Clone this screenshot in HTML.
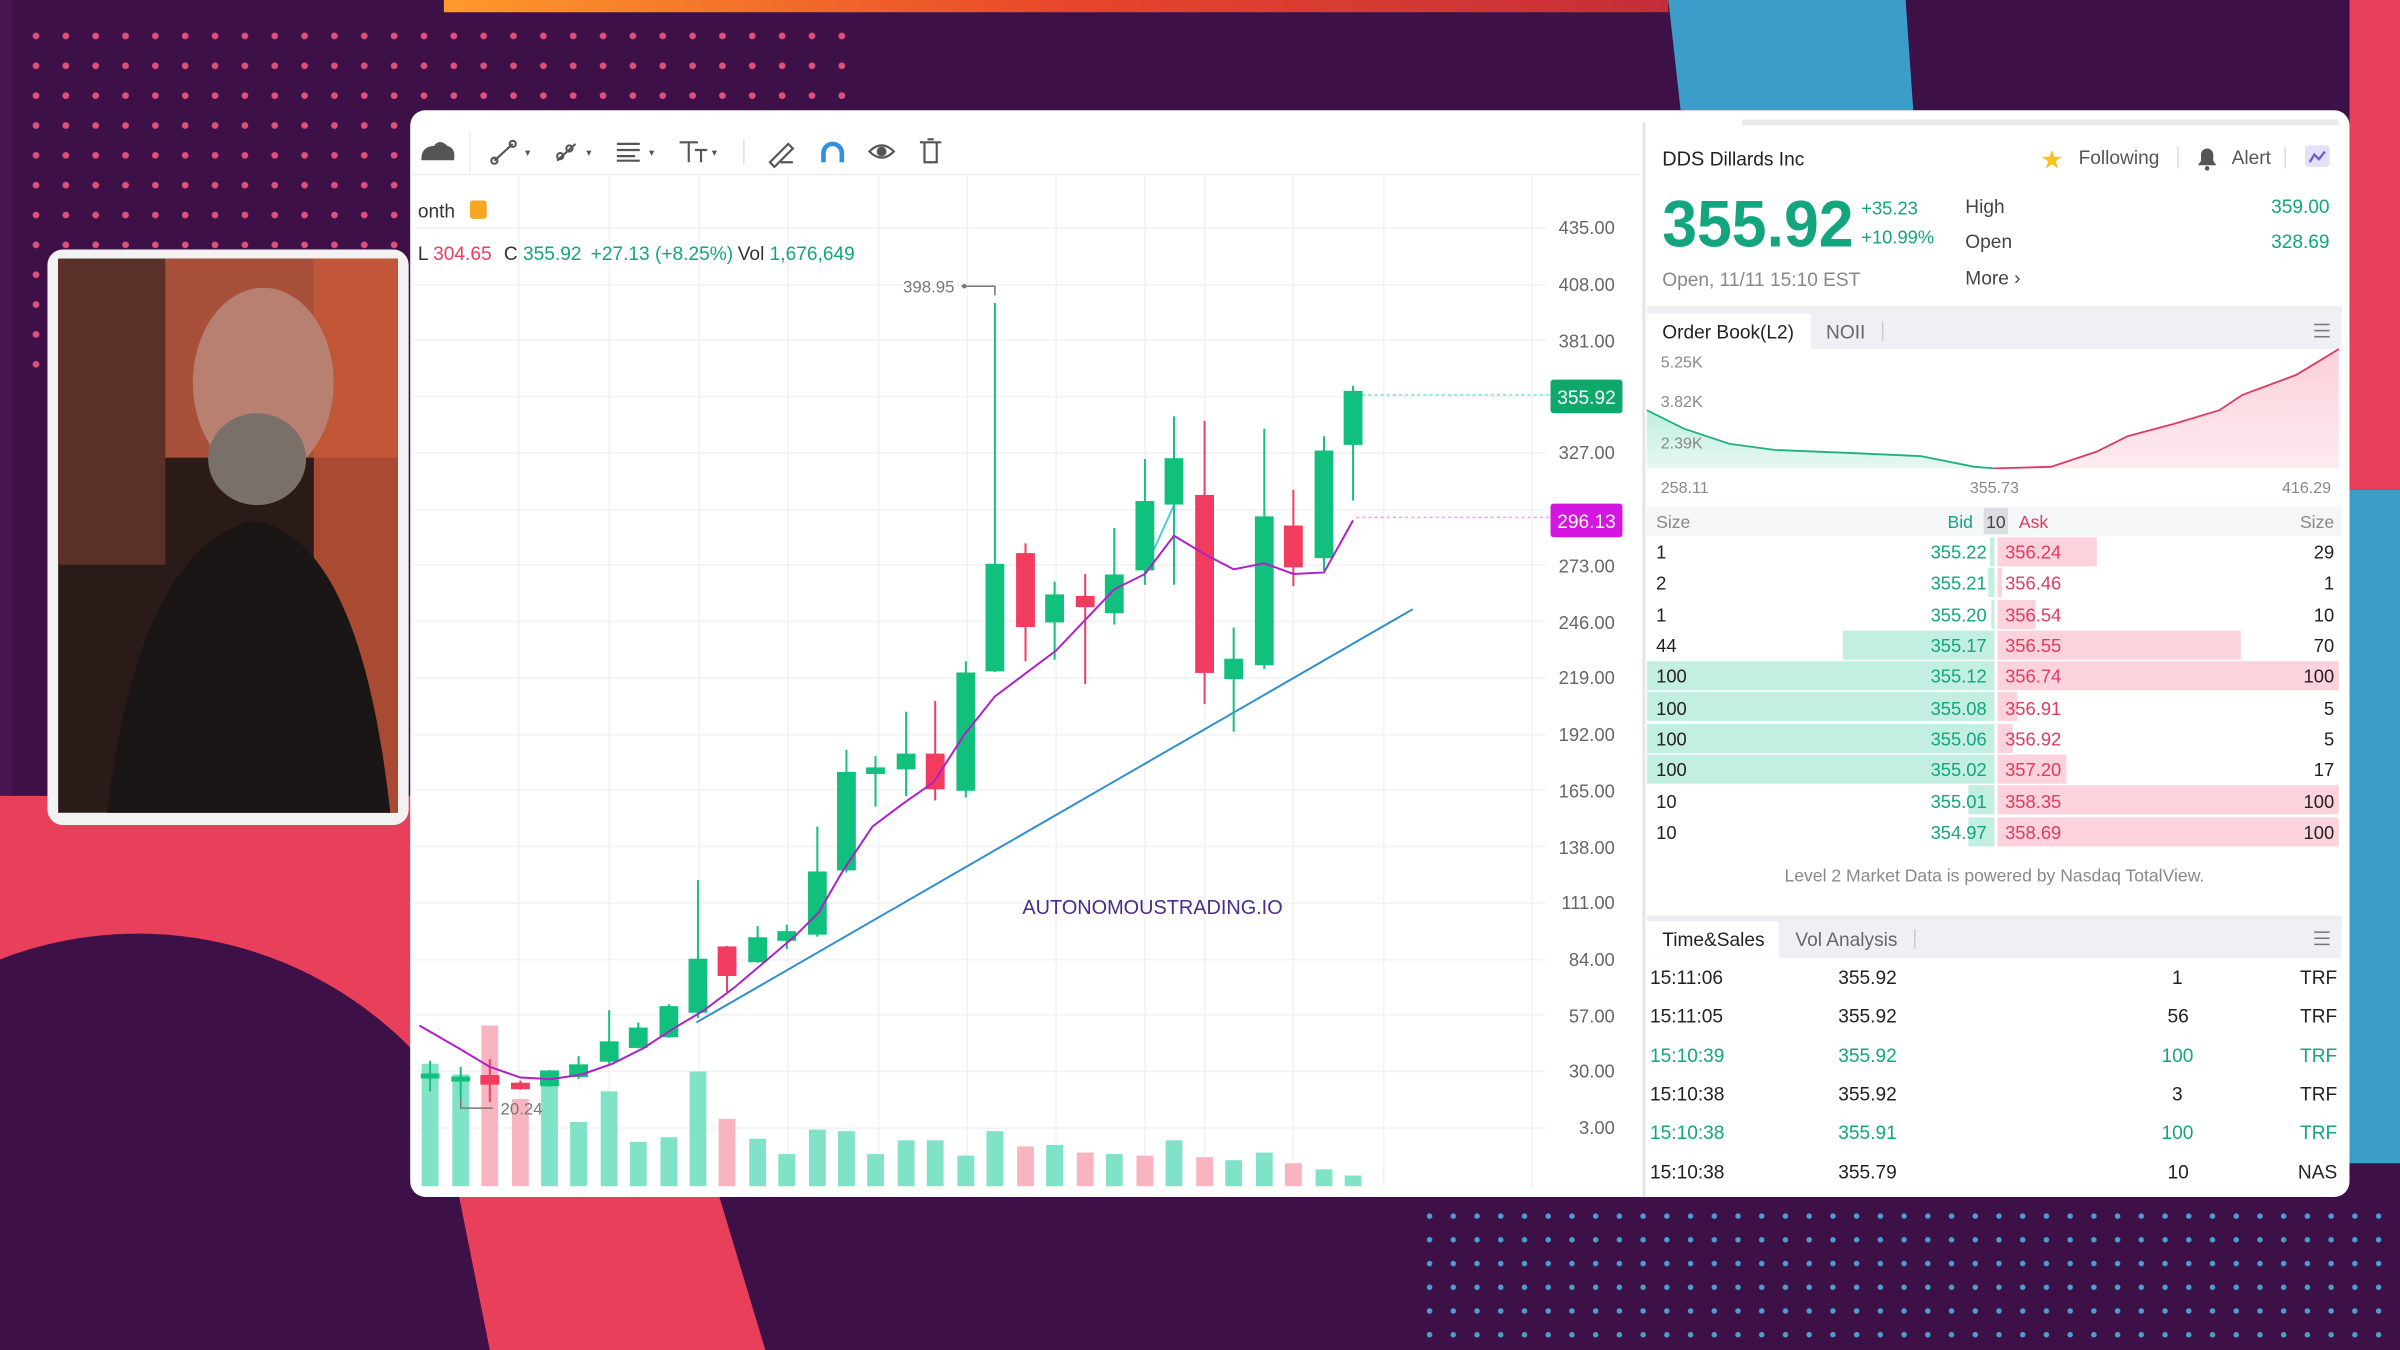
<!DOCTYPE html>
<html><head><meta charset="utf-8"><style>
html,body{margin:0;padding:0;background:#3d1048;overflow:hidden;width:2400px;height:1350px}
svg{display:block;position:absolute;left:0;top:0}
text{font-family:"Liberation Sans",sans-serif}
</style></head><body>
<svg width="2400" height="1350" viewBox="0 0 1568 882" xmlns="http://www.w3.org/2000/svg">
<defs>
<pattern id="dp" width="19.5" height="19.5" patternUnits="userSpaceOnUse"><circle cx="4" cy="4" r="2.2" fill="#e0507a"/></pattern>
<pattern id="db" width="15.5" height="15.5" patternUnits="userSpaceOnUse"><circle cx="4" cy="4" r="1.8" fill="#4a9fd0"/></pattern>
<linearGradient id="tg" x1="0" x2="1"><stop offset="0" stop-color="#ff9a2a"/><stop offset="0.5" stop-color="#e8472a"/><stop offset="1" stop-color="#c42d3a"/></linearGradient>
<linearGradient id="ga" x1="0" y1="0" x2="0" y2="1"><stop offset="0" stop-color="#bfeee0"/><stop offset="1" stop-color="#e6f8f2"/></linearGradient>
<linearGradient id="ra" x1="0" y1="0" x2="0" y2="1"><stop offset="0" stop-color="#fbd0da"/><stop offset="1" stop-color="#fdebef"/></linearGradient>
</defs>
<rect width="1568" height="882" fill="#3d1048"/>
<rect x="290" y="0" width="800" height="8" fill="url(#tg)"/>
<rect x="0" y="0" width="8" height="882" fill="#4b1450"/>
<rect x="14" y="14" width="545" height="230" fill="url(#dp)"/>
<path d="M0 520 L270 520 L270 882 L0 882 Z" fill="#e8405a"/>
<circle cx="90" cy="860" r="250" fill="#3d1048"/>
<path d="M300 782 L470 782 L500 882 L320 882 Z" fill="#e8405a"/>
<path d="M1090 0 L1245 0 L1250 72 L1098 72 Z" fill="#3b9ec9"/>
<rect x="1535" y="0" width="33" height="320" fill="#e8405a"/>
<rect x="1535" y="320" width="33" height="440" fill="#3b9ec9"/>
<rect x="930" y="788" width="630" height="94" fill="url(#db)"/>
<!-- webcam -->
<rect x="31" y="163" width="236" height="376" rx="10" fill="#f2f2f2"/>
<rect x="38" y="169" width="222" height="362" fill="#2a1a18"/>
<rect x="38" y="169" width="222" height="130" fill="#a8503a"/>
<rect x="205" y="169" width="55" height="362" fill="#c8583a" opacity="0.8"/>
<rect x="38" y="169" width="70" height="200" fill="#5a3028"/>
<ellipse cx="172" cy="250" rx="46" ry="62" fill="#b88070"/>
<ellipse cx="168" cy="300" rx="32" ry="30" fill="#7a706a"/>
<path d="M70 531 Q90 360 165 340 Q235 350 255 531 Z" fill="#1a1616"/>
<!-- main panel -->
<rect x="268" y="72" width="1267" height="710" rx="10" fill="#ffffff"/>
<rect x="1138" y="78" width="390" height="4" fill="#e8eaee"/>
<line x1="1074" y1="80" x2="1074" y2="782" stroke="#e3e5ea" stroke-width="2"/>
<line x1="270" y1="114" x2="1072" y2="114" stroke="#eceef2"/>
<line x1="307" y1="86" x2="307" y2="113" stroke="#eceef2"/>
<g fill="none" stroke="#555" stroke-width="1.4">
<path d="M276 104 q0-8 8-8 q3-5 8 0 q5 1 4 8 z" fill="#555"/>
<path d="M323 105 l12-11"/><circle cx="323" cy="105" r="2"/><circle cx="335" cy="94" r="2"/>
<path d="M364 105 l12-11"/><circle cx="366" cy="102" r="2"/><circle cx="372" cy="97" r="2"/>
<path d="M403 94 h15 M403 98 h15 M403 102 h12 M403 105 h15"/>
<path d="M444 93 h12 M450 93 v13 M454 98 h8 M458 98 v8"/>
<path d="M503 106 l12-12 l3 3 l-12 12z M510 106 h8"/>
<path d="M538 106 v-6 a6 6 0 0 1 12 0 v6" stroke="#2f8fe0" stroke-width="3"/>
<path d="M568 99 q8-8 16 0 q-8 8-16 0z"/><circle cx="576" cy="99" r="2.5" fill="#555"/>
<path d="M601 93 h14 M604 93 v13 h8 v-13 M606 91 h4"/>
</g>
<g fill="#555" font-size="7"><text x="343" y="102">▾</text><text x="383" y="102">▾</text><text x="424" y="102">▾</text><text x="465" y="102">▾</text></g>
<line x1="486" y1="91" x2="486" y2="107" stroke="#ddd"/>
<g stroke="#f1f2f5">
<line x1="339" y1="115" x2="339" y2="775"/><line x1="398" y1="115" x2="398" y2="775"/><line x1="457" y1="115" x2="457" y2="775"/><line x1="515" y1="115" x2="515" y2="775"/><line x1="574" y1="115" x2="574" y2="775"/><line x1="632" y1="115" x2="632" y2="775"/><line x1="690" y1="115" x2="690" y2="775"/><line x1="748" y1="115" x2="748" y2="775"/><line x1="787" y1="115" x2="787" y2="775"/><line x1="845" y1="115" x2="845" y2="775"/><line x1="904" y1="115" x2="904" y2="775"/><line x1="1001" y1="115" x2="1001" y2="775"/>
<line x1="270" y1="149" x2="1010" y2="149"/><line x1="270" y1="186" x2="1010" y2="186"/><line x1="270" y1="222" x2="1010" y2="222"/><line x1="270" y1="259" x2="1010" y2="259"/><line x1="270" y1="296" x2="1010" y2="296"/><line x1="270" y1="333" x2="1010" y2="333"/><line x1="270" y1="369" x2="1010" y2="369"/><line x1="270" y1="406" x2="1010" y2="406"/><line x1="270" y1="443" x2="1010" y2="443"/><line x1="270" y1="480" x2="1010" y2="480"/><line x1="270" y1="516" x2="1010" y2="516"/><line x1="270" y1="553" x2="1010" y2="553"/><line x1="270" y1="590" x2="1010" y2="590"/><line x1="270" y1="627" x2="1010" y2="627"/><line x1="270" y1="663" x2="1010" y2="663"/><line x1="270" y1="700" x2="1010" y2="700"/><line x1="270" y1="737" x2="1010" y2="737"/>
</g>
<g font-size="12" fill="#666" text-anchor="end">
<text x="1055" y="153">435.00</text><text x="1055" y="190">408.00</text><text x="1055" y="227">381.00</text><text x="1055" y="300">327.00</text><text x="1055" y="374">273.00</text><text x="1055" y="411">246.00</text><text x="1055" y="447">219.00</text><text x="1055" y="484">192.00</text><text x="1055" y="521">165.00</text><text x="1055" y="558">138.00</text><text x="1055" y="594">111.00</text><text x="1055" y="631">84.00</text><text x="1055" y="668">57.00</text><text x="1055" y="704">30.00</text><text x="1055" y="741">3.00</text>
</g>
<line x1="890" y1="258" x2="1013" y2="258" stroke="#7fe0d0" stroke-dasharray="2 2"/>
<rect x="1013" y="248" width="47" height="22" rx="2" fill="#0ea86c"/>
<text x="1036.5" y="264" font-size="12.5" fill="#fff" text-anchor="middle">355.92</text>
<line x1="886" y1="338" x2="1013" y2="338" stroke="#f0a0f0" stroke-dasharray="2 2"/>
<rect x="1013" y="329" width="47" height="22" rx="2" fill="#d516e0"/>
<text x="1036.5" y="345" font-size="12.5" fill="#fff" text-anchor="middle">296.13</text>
<text x="273" y="142" font-size="12.5" fill="#333">onth</text>
<rect x="307" y="131" width="11" height="12" rx="2" fill="#f5a623"/>
<text font-size="12.5" y="170"><tspan x="273" fill="#333">L </tspan><tspan fill="#f23c5f">304.65</tspan><tspan fill="#333" dx="8">C </tspan><tspan fill="#12a57e">355.92</tspan><tspan fill="#12a57e" dx="6">+27.13 (+8.25%)</tspan><tspan fill="#333" dx="3">Vol </tspan><tspan fill="#12a57e">1,676,649</tspan></text>
<text x="590" y="191" font-size="11" fill="#777">398.95</text>
<path d="M628 187 H650 V193" fill="none" stroke="#777"/><circle cx="630" cy="187" r="1.5" fill="#777"/>
<g fill="#80e3c8">
<rect x="275.5" y="695" width="11" height="80"/><rect x="295.5" y="702" width="11" height="73"/><rect x="353.5" y="705" width="11" height="70"/><rect x="372.5" y="733" width="11" height="42"/><rect x="392.5" y="713" width="11" height="62"/><rect x="411.5" y="746" width="11" height="29"/><rect x="431.5" y="743" width="11" height="32"/><rect x="450.5" y="700" width="11" height="75"/><rect x="489.5" y="744" width="11" height="31"/><rect x="508.5" y="754" width="11" height="21"/><rect x="528.5" y="738" width="11" height="37"/><rect x="547.5" y="739" width="11" height="36"/><rect x="566.5" y="754" width="11" height="21"/><rect x="586.5" y="745" width="11" height="30"/><rect x="605.5" y="745" width="11" height="30"/><rect x="625.5" y="755" width="11" height="20"/><rect x="644.5" y="739" width="11" height="36"/><rect x="683.5" y="748" width="11" height="27"/><rect x="722.5" y="754" width="11" height="21"/><rect x="761.5" y="745" width="11" height="30"/><rect x="800.5" y="758" width="11" height="17"/><rect x="820.5" y="753" width="11" height="22"/><rect x="859.5" y="764" width="11" height="11"/><rect x="878.5" y="768" width="11" height="7"/>
</g>
<g fill="#f9b4c2">
<rect x="314.5" y="670" width="11" height="105"/><rect x="334.5" y="718" width="11" height="57"/><rect x="469.5" y="731" width="11" height="44"/><rect x="664.5" y="749" width="11" height="26"/><rect x="703.5" y="753" width="11" height="22"/><rect x="742.5" y="755" width="11" height="20"/><rect x="781.5" y="756" width="11" height="19"/><rect x="839.5" y="760" width="11" height="15"/>
</g>
<text x="327" y="728" font-size="11" fill="#777">20.24</text>
<path d="M301 712 V724 H322" fill="none" stroke="#777"/>
<line x1="455" y1="668" x2="923" y2="398" stroke="#2f8fd0" stroke-width="1.3"/>
<line x1="748" y1="372" x2="767" y2="330" stroke="#40c8e0" stroke-width="1.2"/>
<g stroke="#12c07e" stroke-width="1.3" fill="#12c07e">
<line x1="281" y1="693" x2="281" y2="713"/><rect x="275.5" y="702" width="11" height="2"/>
<line x1="301" y1="697" x2="301" y2="718"/><rect x="295.5" y="704" width="11" height="2"/>
<line x1="359" y1="699" x2="359" y2="710"/><rect x="353.5" y="700" width="11" height="9"/>
<line x1="378" y1="690" x2="378" y2="705"/><rect x="372.5" y="696" width="11" height="7"/>
<line x1="398" y1="660" x2="398" y2="695"/><rect x="392.5" y="681" width="11" height="12"/>
<line x1="417" y1="668" x2="417" y2="685"/><rect x="411.5" y="672" width="11" height="12"/>
<line x1="437" y1="656" x2="437" y2="678"/><rect x="431.5" y="658" width="11" height="19"/>
<line x1="456" y1="575" x2="456" y2="665"/><rect x="450.5" y="627" width="11" height="34"/>
<line x1="495" y1="605" x2="495" y2="629"/><rect x="489.5" y="613" width="11" height="15"/>
<line x1="514" y1="604" x2="514" y2="620"/><rect x="508.5" y="609" width="11" height="5"/>
<line x1="534" y1="540" x2="534" y2="612"/><rect x="528.5" y="570" width="11" height="40"/>
<line x1="553" y1="490" x2="553" y2="570"/><rect x="547.5" y="505" width="11" height="63"/>
<line x1="572" y1="494" x2="572" y2="527"/><rect x="566.5" y="502" width="11" height="3"/>
<line x1="592" y1="465" x2="592" y2="520"/><rect x="586.5" y="493" width="11" height="9"/>
<line x1="631" y1="432" x2="631" y2="521"/><rect x="625.5" y="440" width="11" height="76"/>
<line x1="650" y1="198" x2="650" y2="439"/><rect x="644.5" y="369" width="11" height="69"/>
<line x1="689" y1="380" x2="689" y2="431"/><rect x="683.5" y="389" width="11" height="17"/>
<line x1="728" y1="345" x2="728" y2="408"/><rect x="722.5" y="376" width="11" height="24"/>
<line x1="748" y1="300" x2="748" y2="382"/><rect x="742.5" y="328" width="11" height="44"/>
<line x1="767" y1="272" x2="767" y2="382"/><rect x="761.5" y="300" width="11" height="29"/>
<line x1="806" y1="410" x2="806" y2="478"/><rect x="800.5" y="431" width="11" height="12"/>
<line x1="826" y1="280" x2="826" y2="437"/><rect x="820.5" y="338" width="11" height="96"/>
<line x1="865" y1="285" x2="865" y2="373"/><rect x="859.5" y="295" width="11" height="69"/>
<line x1="884" y1="252" x2="884" y2="327"/><rect x="878.5" y="256" width="11" height="34"/>
</g>
<g stroke="#f23c5f" stroke-width="1.3" fill="#f23c5f">
<line x1="320" y1="692" x2="320" y2="720"/><rect x="314.5" y="703" width="11" height="5"/>
<line x1="340" y1="706" x2="340" y2="712"/><rect x="334.5" y="708" width="11" height="3"/>
<line x1="475" y1="618" x2="475" y2="648"/><rect x="469.5" y="619" width="11" height="18"/>
<line x1="611" y1="458" x2="611" y2="523"/><rect x="605.5" y="493" width="11" height="22"/>
<line x1="670" y1="355" x2="670" y2="432"/><rect x="664.5" y="362" width="11" height="47"/>
<line x1="709" y1="375" x2="709" y2="447"/><rect x="703.5" y="390" width="11" height="6"/>
<line x1="787" y1="275" x2="787" y2="460"/><rect x="781.5" y="324" width="11" height="115"/>
<line x1="845" y1="320" x2="845" y2="383"/><rect x="839.5" y="344" width="11" height="26"/>
</g>
<polyline fill="none" stroke="#b020c8" stroke-width="1.3" points="274,670 300,685 320,697 340,704 360,705 380,702 400,695 420,685 440,672 460,660 480,645 500,628 520,611 535,596 550,570 570,540 590,525 610,511 630,480 650,455 670,440 690,425 709,405 728,385 748,375 767,350 787,362 806,372 826,368 845,375 865,374 884,340"/>
<text x="753" y="597" font-size="13" fill="#4a2c8a" text-anchor="middle">AUTONOMOUSTRADING.IO</text>
<!-- right panel -->
<text x="1086" y="108" font-size="13" fill="#222">DDS <tspan font-size="12.5">Dillards Inc</tspan></text>
<text x="1333" y="110" font-size="17" fill="#f7c21a">★</text>
<text x="1358" y="107" font-size="12.5" fill="#555">Following</text>
<line x1="1423" y1="96" x2="1423" y2="110" stroke="#ddd"/>
<path d="M1436 108 h12 l-2-3 v-4 a4 4 0 0 0-8 0 v4 z" fill="#555"/><circle cx="1442" cy="110" r="1.5" fill="#555"/>
<text x="1458" y="107" font-size="12.5" fill="#555">Alert</text>
<line x1="1493" y1="96" x2="1493" y2="110" stroke="#ddd"/>
<rect x="1506" y="95" width="16" height="14" rx="2" fill="#e4e0f8"/><path d="M1509 106 l3-5 l3 3 l4-5" stroke="#6a5cd8" fill="none" stroke-width="1.5"/>
<text x="1086" y="161" font-size="43" fill="#12a57e" font-weight="bold" textLength="125" lengthAdjust="spacingAndGlyphs">355.92</text>
<text x="1216" y="140" font-size="12" fill="#12a57e">+35.23</text>
<text x="1216" y="159" font-size="12" fill="#12a57e">+10.99%</text>
<text x="1284" y="139" font-size="12.5" fill="#444">High</text>
<text x="1284" y="162" font-size="12.5" fill="#444">Open</text>
<text x="1284" y="186" font-size="12.5" fill="#444">More ›</text>
<text x="1522" y="139" font-size="12.5" fill="#12a57e" text-anchor="end">359.00</text>
<text x="1522" y="162" font-size="12.5" fill="#12a57e" text-anchor="end">328.69</text>
<text x="1086" y="187" font-size="12.5" fill="#888">Open, 11/11 15:10 EST</text>
<rect x="1076" y="200" width="454" height="5" fill="#eceef2"/>
<rect x="1076" y="205" width="454" height="23" fill="#eef0f5"/>
<rect x="1076" y="205" width="107" height="23" fill="#fff"/>
<text x="1086" y="221" font-size="12.5" fill="#222">Order Book(L2)</text>
<text x="1193" y="221" font-size="12.5" fill="#666">NOII</text>
<line x1="1230" y1="210" x2="1230" y2="223" stroke="#ccc"/>
<g stroke="#777"><line x1="1512" y1="212" x2="1522" y2="212"/><line x1="1512" y1="216" x2="1522" y2="216"/><line x1="1512" y1="220" x2="1522" y2="220"/></g>
<path d="M1076 268 L1100 280 L1130 290 L1160 294 L1210 296 L1255 298 L1290 305 L1303 306 L1076 306 Z" fill="url(#ga)"/>
<polyline fill="none" stroke="#20b080" stroke-width="1.2" points="1076,268 1100,280 1130,290 1160,294 1210,296 1255,298 1290,305 1303,306"/>
<path d="M1303 306 L1340 305 L1370 295 L1390 285 L1420 277 L1450 268 L1465 258 L1500 245 L1515 236 L1528 228 L1528 306 Z" fill="url(#ra)"/>
<polyline fill="none" stroke="#e03a60" stroke-width="1.2" points="1303,306 1340,305 1370,295 1390,285 1420,277 1450,268 1465,258 1500,245 1515,236 1528,228"/>
<g font-size="10.5" fill="#888"><text x="1085" y="240">5.25K</text><text x="1085" y="266">3.82K</text><text x="1085" y="293">2.39K</text>
<text x="1085" y="322">258.11</text><text x="1303" y="322" text-anchor="middle">355.73</text><text x="1523" y="322" text-anchor="end">416.29</text></g>
<rect x="1076" y="331" width="454" height="19" fill="#f5f6f8"/>
<rect x="1296" y="332" width="16" height="17" fill="#dcdde2"/>
<g font-size="11.5"><text x="1082" y="345" fill="#888">Size</text><text x="1289" y="345" fill="#12a57e" text-anchor="end">Bid</text><text x="1304" y="345" fill="#444" text-anchor="middle">10</text><text x="1319" y="345" fill="#e03a60">Ask</text><text x="1525" y="345" fill="#888" text-anchor="end">Size</text></g>
<g fill="#c3efe2">
<rect x="1300" y="351" width="3" height="19"/><rect x="1299" y="371" width="4" height="19"/><rect x="1301" y="392" width="2" height="19"/><rect x="1204" y="412" width="99" height="19"/><rect x="1076" y="432" width="227" height="19"/><rect x="1076" y="452" width="227" height="19"/><rect x="1076" y="473" width="227" height="19"/><rect x="1076" y="493" width="227" height="19"/><rect x="1286" y="513" width="17" height="19"/><rect x="1286" y="534" width="17" height="19"/>
</g>
<g fill="#fcd3dc">
<rect x="1305" y="351" width="65" height="19"/><rect x="1305" y="371" width="3" height="19"/><rect x="1305" y="392" width="25" height="19"/><rect x="1305" y="412" width="159" height="19"/><rect x="1305" y="432" width="223" height="19"/><rect x="1305" y="452" width="13" height="19"/><rect x="1305" y="473" width="10" height="19"/><rect x="1305" y="493" width="45" height="19"/><rect x="1305" y="513" width="223" height="19"/><rect x="1305" y="534" width="223" height="19"/>
</g>
<g font-size="12">
<g fill="#222"><text x="1082" y="365">1</text><text x="1082" y="385">2</text><text x="1082" y="406">1</text><text x="1082" y="426">44</text><text x="1082" y="446">100</text><text x="1082" y="467">100</text><text x="1082" y="487">100</text><text x="1082" y="507">100</text><text x="1082" y="528">10</text><text x="1082" y="548">10</text></g>
<g fill="#12a57e" text-anchor="end"><text x="1298" y="365">355.22</text><text x="1298" y="385">355.21</text><text x="1298" y="406">355.20</text><text x="1298" y="426">355.17</text><text x="1298" y="446">355.12</text><text x="1298" y="467">355.08</text><text x="1298" y="487">355.06</text><text x="1298" y="507">355.02</text><text x="1298" y="528">355.01</text><text x="1298" y="548">354.97</text></g>
<g fill="#e03a60"><text x="1310" y="365">356.24</text><text x="1310" y="385">356.46</text><text x="1310" y="406">356.54</text><text x="1310" y="426">356.55</text><text x="1310" y="446">356.74</text><text x="1310" y="467">356.91</text><text x="1310" y="487">356.92</text><text x="1310" y="507">357.20</text><text x="1310" y="528">358.35</text><text x="1310" y="548">358.69</text></g>
<g fill="#222" text-anchor="end"><text x="1525" y="365">29</text><text x="1525" y="385">1</text><text x="1525" y="406">10</text><text x="1525" y="426">70</text><text x="1525" y="446">100</text><text x="1525" y="467">5</text><text x="1525" y="487">5</text><text x="1525" y="507">17</text><text x="1525" y="528">100</text><text x="1525" y="548">100</text></g>
</g>
<text x="1303" y="576" font-size="11.5" fill="#888" text-anchor="middle">Level 2 Market Data is powered by Nasdaq TotalView.</text>
<rect x="1076" y="598" width="454" height="4" fill="#eceef2"/>
<rect x="1076" y="602" width="454" height="24" fill="#eef0f5"/>
<rect x="1076" y="602" width="86" height="24" fill="#fff"/>
<text x="1086" y="618" font-size="12.5" fill="#222">Time&amp;Sales</text>
<text x="1173" y="618" font-size="12.5" fill="#666">Vol Analysis</text>
<line x1="1251" y1="607" x2="1251" y2="620" stroke="#ccc"/>
<g stroke="#777"><line x1="1512" y1="609" x2="1522" y2="609"/><line x1="1512" y1="613" x2="1522" y2="613"/><line x1="1512" y1="617" x2="1522" y2="617"/></g>
<g font-size="12.5">
<g fill="#222"><text x="1078" y="643">15:11:06</text><text x="1201" y="643">355.92</text><text x="1426" y="643" text-anchor="end">1</text><text x="1527" y="643" text-anchor="end">TRF</text></g>
<g fill="#222"><text x="1078" y="668">15:11:05</text><text x="1201" y="668">355.92</text><text x="1430" y="668" text-anchor="end">56</text><text x="1527" y="668" text-anchor="end">TRF</text></g>
<g fill="#12a57e"><text x="1078" y="694">15:10:39</text><text x="1201" y="694">355.92</text><text x="1433" y="694" text-anchor="end">100</text><text x="1527" y="694" text-anchor="end">TRF</text></g>
<g fill="#222"><text x="1078" y="719">15:10:38</text><text x="1201" y="719">355.92</text><text x="1426" y="719" text-anchor="end">3</text><text x="1527" y="719" text-anchor="end">TRF</text></g>
<g fill="#12a57e"><text x="1078" y="744">15:10:38</text><text x="1201" y="744">355.91</text><text x="1433" y="744" text-anchor="end">100</text><text x="1527" y="744" text-anchor="end">TRF</text></g>
<g fill="#222"><text x="1078" y="770">15:10:38</text><text x="1201" y="770">355.79</text><text x="1430" y="770" text-anchor="end">10</text><text x="1527" y="770" text-anchor="end">NAS</text></g>
</g>
</svg>
</body></html>
